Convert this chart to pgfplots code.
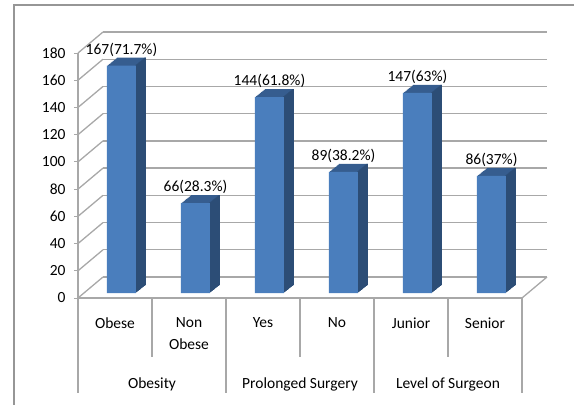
\documentclass[border=0pt]{standalone}
\usepackage{pgfplots}
\pgfplotsset{compat=1.18}
\usepackage{pgfplotstable}
\usepackage{fontspec}
\setmainfont{Carlito}
\definecolor{frontc}{RGB}{74,126,189}
\definecolor{sidec}{RGB}{44,77,118}
\definecolor{topc}{RGB}{54,93,143}
\definecolor{gridc}{RGB}{168,168,168}
\definecolor{framec}{RGB}{150,150,150}
\pgfplotstableread{
x val lab
0 167 167(71.7\%)
1 66 66(28.3\%)
2 144 144(61.8\%)
3 89 89(38.2\%)
4 147 147(63\%)
5 86 86(37\%)
}\bars
\begin{document}
\begin{tikzpicture}[font=\fontsize{15.5}{22}\selectfont]
\useasboundingbox (-78pt,-107pt) rectangle (496pt,298pt);
\draw[framec, line width=1.5pt] (-64pt,-107pt) -- (-64pt,293pt) -- (496pt,293pt);
\begin{axis}[at={(0,0)}, anchor=south west, scale only axis,
  width=444pt, height=245pt,
  xmin=-0.5, xmax=5.5, ymin=0, ymax=180, clip=false,
  axis x line*=bottom, axis y line*=left,
  axis line style={gridc, line width=1.2pt},
  /pgf/number format/assume math mode=true,
  tick align=outside, major tick length=4pt,
  ytick={0,20,...,180}, ytick style={gridc, line width=1pt},
  yticklabel style={font=\fontsize{15.5}{22}\selectfont, xshift=-5pt},
  xtick={0,...,5},
  xticklabels={Obese,{Non\\Obese},Yes,No,Junior,Senior},
  xtick style={draw=none},
  xticklabel style={font=\fontsize{15.5}{22}\selectfont, align=center, yshift=-12pt},
  extra x ticks={0.5,2.5,4.5},
  extra x tick labels={Obesity,Prolonged Surgery,Level of Surgeon},
  extra x tick style={major tick length=0pt, tick label style={yshift=-64pt}},
]
\pgfplotsinvokeforeach{0,20,40,60,80,100,120,140,160,180}{
  \addplot[gridc, line width=1.3pt, xshift=25pt, yshift=21pt, forget plot] coordinates {(-0.5,#1) (5.5,#1)};
  \draw[gridc, line width=1.3pt] (axis cs:-0.5,#1) -- ++(25pt,21pt);
}
\draw[gridc, line width=1.3pt] (axis cs:5.5,0) -- ++(25pt,21pt);
\draw[gridc, line width=1.2pt] (axis cs:-0.5,0) -- ++(0pt,-95pt);
\draw[gridc, line width=1.2pt] (axis cs:0.5,0) -- ++(0pt,-59pt);
\draw[gridc, line width=1.2pt] (axis cs:1.5,0) -- ++(0pt,-95pt);
\draw[gridc, line width=1.2pt] (axis cs:2.5,0) -- ++(0pt,-59pt);
\draw[gridc, line width=1.2pt] (axis cs:3.5,0) -- ++(0pt,-95pt);
\draw[gridc, line width=1.2pt] (axis cs:4.5,0) -- ++(0pt,-59pt);
\draw[gridc, line width=1.2pt] (axis cs:5.5,0) -- ++(0pt,-95pt);
\pgfplotsinvokeforeach{1,...,10}{
  \addplot[ybar, bar width=29pt, bar shift=0pt, fill=topc, draw=none, forget plot,
    xshift={(6.5+#1)*1pt}, yshift={(5+0.8*#1)*1pt}] table[x=x,y=val]{\bars};
}
\pgfplotsinvokeforeach{1,...,10}{
  \addplot[ybar, bar width=1.5pt, bar shift=13.75pt, fill=sidec, draw=none, forget plot,
    xshift={(6.5+#1)*1pt}, yshift={(5+0.8*#1)*1pt}] table[x=x,y=val]{\bars};
}
\addplot[ybar, bar width=29pt, bar shift=0pt, fill=frontc, draw=none,
  xshift=6.5pt, yshift=5pt,
  nodes near coords, point meta=explicit symbolic,
  every node near coord/.append style={font=\fontsize{15.5}{22}\selectfont, black, anchor=south, inner sep=2pt, yshift=7pt}]
  table[x=x,y=val,meta=lab]{\bars};
\end{axis}
\end{tikzpicture}
\end{document}
